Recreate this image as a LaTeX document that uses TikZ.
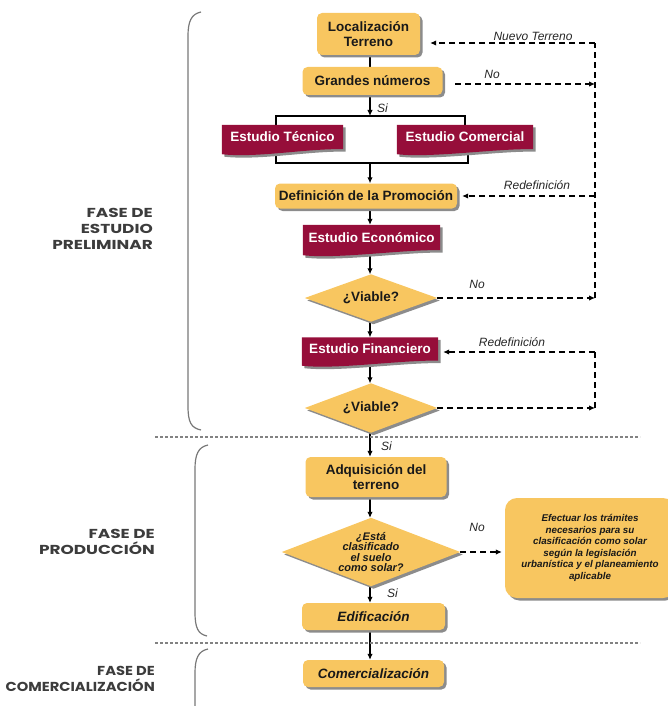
\documentclass[tikz,border=0pt]{standalone}
\usepackage{fontspec}
\setmainfont{Liberation Sans}
\newfontfamily\phasefont{Poppins}[FakeStretch=1.3]
\newfontfamily\phasefontn{Poppins}[FakeStretch=1.13]
\usetikzlibrary{shadows,calc,arrows.meta}
\definecolor{boxor}{RGB}{248,198,96}
\definecolor{boxred}{RGB}{150,14,58}
\definecolor{shad}{RGB}{140,140,140}
\definecolor{brk}{RGB}{120,120,120}
\definecolor{phasec}{RGB}{60,60,60}
\definecolor{dotc}{RGB}{130,130,130}
\pgfdeclarelayer{conn}
\pgfdeclarelayer{bg}
\pgfsetlayers{conn,bg,main}
\newcommand\docpath[2]{([#2]#1.north west) -- ([#2]#1.north east) -- ([#2]#1.south east)
  .. controls ([#2,xshift=-35pt,yshift=1pt]#1.south east) and ([#2,xshift=35pt,yshift=-9pt]#1.south west)
  .. ([#2,yshift=-5pt]#1.south west) -- cycle}
\newcommand\diapath[2]{([#2]#1.north) -- ([#2]#1.east) -- ([#2]#1.south) -- ([#2]#1.west) -- cycle}
\begin{document}
\begin{tikzpicture}[x=1pt,y=-1pt,
  obox/.style={fill=boxor, rounded corners=5pt,
    drop shadow={shadow xshift=2.5pt,shadow yshift=-2.5pt,fill=shad,opacity=1},
    font=\fontsize{13.5}{15}\selectfont\bfseries, text=black!90, inner sep=0pt, align=center},
  rbox/.style={inner sep=0pt, text=white, font=\fontsize{13.5}{15}\selectfont\bfseries},
  dbox/.style={inner sep=0pt, align=center, text=black!90},
  arr/.style={-{Latex[length=6pt,width=5.5pt]}, line width=1.1pt},
  dsh/.style={dash pattern=on 6pt off 4pt, line width=1.1pt},
  darr/.style={dsh, -{Latex[length=6pt,width=5.5pt]}},
  lab/.style={font=\fontsize{12}{14}\selectfont\itshape, text=black!85, inner sep=0pt},
  phase/.style={font=\phasefont\bfseries\fontsize{13}{16}\selectfont, text=phasec, align=right, anchor=east, inner sep=0pt},
  brace/.style={draw=brk, line width=1.2pt},
  dotline/.style={draw=dotc, line width=2pt, dash pattern=on 2.5pt off 2.5pt}
]
\useasboundingbox (0,0) rectangle (667,706);
\coordinate (sp) at (370,0);

% phase labels
\node[phase] (p1) at (153,229) {FASE DE\\ESTUDIO\\PRELIMINAR};
\node[phase] (p2) at (155,541.5) {FASE DE\\PRODUCCIÓN};
\node[phase, font=\phasefontn\bfseries\fontsize{13}{16}\selectfont] (p3) at (155,679) {FASE DE\\COMERCIALIZACIÓN};

% braces and separators
\draw[brace] (201,12) .. controls (191,14) and (188,22) .. (188,36) -- (188,406) .. controls (188,422) and (191,428) .. (201,430);
\draw[brace] (208,445) .. controls (198,447) and (195,455) .. (195,469) -- (195,612) .. controls (195,628) and (198,634) .. (207,636);
\draw[brace] (208,649) .. controls (198,651) and (195,659) .. (195,673) -- (195,712);
\draw[dotline] (155,437) -- (640,437);
\draw[dotline] (155,643) -- (640,643);

% orange boxes
\node[obox, minimum width=103pt, minimum height=42pt] (loc) at (368.5,34) {Localización\\Terreno};
\node[obox, minimum width=140pt, minimum height=28pt] (gn) at (372.5,81) {Grandes números};
\node[obox, minimum width=182pt, minimum height=25pt] (def) at (366,196) {Definición de la Promoción};
\node[obox, minimum width=141pt, minimum height=40pt] (adq) at (376,477) {Adquisición del\\terreno};
\node[obox, minimum width=143pt, minimum height=27pt, font=\fontsize{13.5}{15}\selectfont\bfseries\itshape] (edif) at (373.5,616.5) {Edificación};
\node[obox, minimum width=141pt, minimum height=27pt, font=\fontsize{13.5}{15}\selectfont\bfseries\itshape] (com) at (373.5,673.5) {Comercialización};
\node[obox, rounded corners=12pt, minimum width=170pt, minimum height=100pt, font=\fontsize{9.8}{11.5}\selectfont\bfseries\itshape] (efe) at (590,548) {Efectuar los trámites\\necesarios para su\\clasificación como solar\\según la legislación\\urbanística y el planeamiento\\aplicable};

% red document boxes
\node[rbox, minimum width=121pt, minimum height=24pt] (et) at (282.5,137) {Estudio Técnico};
\node[rbox, minimum width=136pt, minimum height=24pt] (ec) at (465,137) {Estudio Comercial};
\node[rbox, minimum width=137pt, minimum height=25pt] (eeco) at (371.5,237.5) {Estudio Económico};
\node[rbox, minimum width=136pt, minimum height=23pt] (efin) at (370,349) {Estudio Financiero};

% diamonds
\node[dbox, minimum width=132pt, minimum height=47pt, font=\fontsize{13.5}{15}\selectfont\bfseries] (v1) at (371,298) {¿Viable?};
\node[dbox, minimum width=132pt, minimum height=49pt, font=\fontsize{13.5}{15}\selectfont\bfseries] (v2) at (371,408) {¿Viable?};
\node[dbox, minimum width=178pt, minimum height=68pt, font=\fontsize{11}{10.5}\selectfont\bfseries\itshape] (esta) at (371,552) {¿Está\\clasificado\\el suelo\\como solar?};

\begin{pgfonlayer}{bg}
  \foreach \n in {et,ec,eeco,efin}{
    \fill[shad] \docpath{\n}{xshift=2.5pt,yshift=-2.5pt};
    \fill[boxred] \docpath{\n}{};
  }
  \foreach \n in {v1,v2,esta}{
    \fill[shad] \diapath{\n}{xshift=2.5pt,yshift=-2.5pt};
    \fill[boxor] \diapath{\n}{};
  }
\end{pgfonlayer}

\begin{pgfonlayer}{conn}
  % main spine
  \draw[line width=1.1pt] (loc.south -| sp) -- (gn.north -| sp);
  \coordinate (s1) at (370,116);
  \coordinate (s2) at (370,163);
  \coordinate (tl) at (276,116);
  \coordinate (tr) at (465,116);
  \coordinate (bl) at (276,163);
  \coordinate (br) at (468,163);
  \draw[arr] (gn.south -| sp) -- (s1);
  \draw[line width=1.1pt] (et.north -| tl) -- (tl) -- (tr) -- (ec.north -| tr);
  \draw[line width=1.1pt] (et.south -| bl) -- (bl) -- (br) -- (ec.south -| br);
  \draw[arr] (s2) -- (def.north -| sp);
  \draw[arr] (def.south -| sp) -- (eeco.north -| sp);
  \draw[arr] (eeco.south -| sp) -- (v1.north -| sp);
  \draw[arr] (v1.south -| sp) -- (efin.north -| sp);
  \draw[arr] (efin.south -| sp) -- (v2.north -| sp);
  \draw[arr] (v2.south -| sp) -- (adq.north -| sp);
  \draw[arr] (adq.south -| sp) -- (esta.north -| sp);
  \draw[arr] (esta.south -| sp) -- (edif.north -| sp);
  \draw[arr] (edif.south -| sp) -- (com.north -| sp);

  % feedback loops
  \coordinate (r0) at (595,43);
  \coordinate (r1) at (595,84);
  \coordinate (r2) at (595,196);
  \coordinate (r3) at (595,298);
  \coordinate (q1) at (595,352);
  \coordinate (q2) at (595,408);
  \coordinate (gnno) at (455,84);
  \draw[dsh] (r3) -- (r0);
  \draw[darr, shorten >=10pt] (r0) -- (loc.east |- r0);
  \draw[darr] (gnno) -- (r1);
  \draw[darr, shorten >=5pt] (r2) -- (def.east |- r2);
  \draw[darr] (v1.east) -- (r3);
  \draw[darr] (v2.east) -- (q2);
  \draw[dsh] (q2) -- (q1);
  \draw[darr, shorten >=5pt] (q1) -- (efin.east |- q1);
  \draw[darr, shorten >=3pt] (esta.east) -- (efe.west |- esta.east);
\end{pgfonlayer}

% labels
\node[lab, anchor=west] (l1) at (377,108) {Si};
\node[lab] (l2) at (533,36) {Nuevo Terreno};
\node[lab] (l3) at (492,74) {No};
\node[lab] (l4) at (537,185) {Redefinición};
\node[lab] (l5) at (477,284) {No};
\node[lab] (l6) at (512,342) {Redefinición};
\node[lab, anchor=west] (l7) at (381,446) {Si};
\node[lab] (l8) at (477,527) {No};
\node[lab, anchor=west] (l9) at (387,593) {Si};
\end{tikzpicture}
\end{document}
